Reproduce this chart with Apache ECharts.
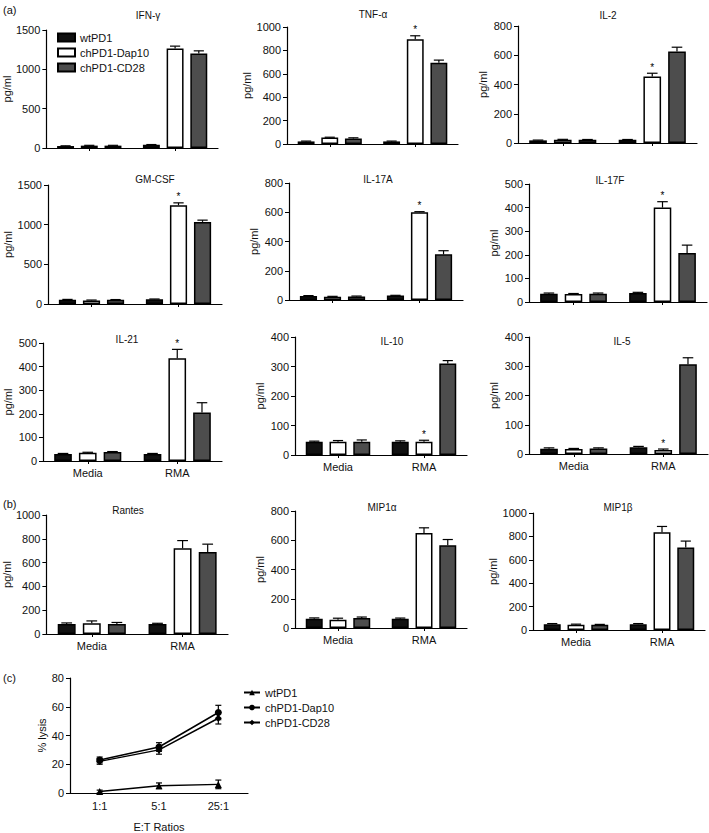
<!DOCTYPE html>
<html>
<head>
<meta charset="utf-8">
<script src="https://cdn.jsdelivr.net/npm/echarts@6/dist/echarts.min.js"></script>
<style>
html,body{margin:0;padding:0;background:#fff;}
#chart{width:709px;height:833px;}
</style>
</head>
<body>
<div id="chart"></div>
<script>
// ---------- DATA ----------
const groups = ['Media', 'RMA'];
const seriesNames = ['wtPD1', 'chPD1-Dap10', 'chPD1-CD28'];
const panelTitles = ['IFN-γ', 'TNF-α', 'IL-2', 'GM-CSF', 'IL-17A', 'IL-17F', 'IL-21', 'IL-10', 'IL-5', 'Rantes', 'MIP1α', 'MIP1β'];
const yMax = [1500, 1000, 800, 1500, 800, 500, 500, 400, 400, 1000, 800, 1000];
const yStep = [500, 200, 200, 500, 200, 100, 100, 100, 100, 200, 200, 200];
// star marks above RMA chPD1-Dap10 bar
const starFlags = [0, 1, 1, 1, 1, 1, 1, 1, 1, 0, 0, 0];

// values: [wtPD1, chPD1-Dap10, chPD1-CD28] x [Media, RMA]
const ifngVals = [[25, 40], [30, 1265], [30, 1200]];
const ifngErr  = [[3, 4], [4, 30], [4, 35]];
const tnfaVals = [[22, 22], [55, 895], [48, 695]];
const tnfaErr  = [[3, 3], [3, 30], [5, 22]];
const il2Vals  = [[18, 22], [22, 455], [22, 625]];
const il2Err   = [[2, 2], [3, 22], [2, 30]];
const gmcsfVals = [[55, 60], [45, 1245], [52, 1035]];
const gmcsfErr  = [[3, 3], [5, 30], [4, 22]];
const il17aVals = [[28, 30], [22, 600], [24, 312]];
const il17aErr  = [[2, 2], [3, 4], [3, 25]];
const il17fVals = [[35, 38], [34, 400], [35, 208]];
const il17fErr  = [[3, 3], [2, 25], [3, 33]];
const il21Vals = [[30, 30], [35, 435], [38, 205]];
const il21Err  = [[2, 2], [2, 38], [2, 42]];
const il10Vals = [[45, 45], [45, 45], [45, 310]];
const il10Err  = [[2, 3], [4, 5], [6, 10]];
const il5Vals  = [[18, 23], [17, 14], [19, 307]];
const il5Err   = [[3, 3], [2, 3], [2, 22]];
const rantesVals = [[85, 85], [90, 720], [85, 690]];
const rantesErr  = [[8, 5], [20, 65], [12, 65]];
const mip1aVals = [[63, 63], [57, 650], [68, 565]];
const mip1aErr  = [[6, 5], [10, 35], [7, 40]];
const mip1bVals = [[50, 50], [45, 835], [45, 705]];
const mip1bErr  = [[5, 5], [5, 50], [3, 55]];

const panelVals = [ifngVals, tnfaVals, il2Vals, gmcsfVals, il17aVals, il17fVals, il21Vals, il10Vals, il5Vals, rantesVals, mip1aVals, mip1bVals];
const panelErrs = [ifngErr, tnfaErr, il2Err, gmcsfErr, il17aErr, il17fErr, il21Err, il10Err, il5Err, rantesErr, mip1aErr, mip1bErr];

// panel (c) lysis
const ratios = ['1:1', '5:1', '25:1'];
const lysisWt = [1, 5, 6];
const lysisWtErr = [1, 2, 3];
const lysisDap10 = [23, 32, 56];
const lysisDap10Err = [2, 3, 5];
const lysisCd28 = [22, 30, 52];
const lysisCd28Err = [2, 3, 4];

// ---------- LAYOUT ----------
const FONT = 'Liberation Sans, Arial, Helvetica, sans-serif';
const gridBoxes = [
  [45, 30, 173, 118], [287, 27, 171, 117], [518, 26, 179, 117],
  [48, 185, 174, 119], [289, 183, 174, 117], [529, 184, 178, 118],
  [43, 343, 179, 118], [295, 337, 172, 118], [529, 337, 179, 117],
  [45, 515, 183, 119], [295, 511, 172, 117], [533, 513, 172, 117]
];
const titlePos = [
  [143, 5], [368, 4], [603, 5],
  [150, 169], [373, 169], [605, 170],
  [122, 329], [387, 331], [617, 331],
  [123, 500], [377, 497], [613, 497]
];
const lineBox = [70, 678, 178, 119];
const barFill = ['#111111', '#ffffff', '#4d4d4d'];

const CAT_GAP = 0.25, BAR_GAP = 0.4;
const plainNum = function (v) { return String(v); };

function errBarRender(params, api) {
  const cat = api.value(0), si = api.value(1), v = api.value(2), e = api.value(3), star = api.value(4);
  const base = api.coord([cat, v]);
  const top = api.coord([cat, v + e]);
  const band = api.size([1, 0])[0];
  const w = band * (1 - CAT_GAP) / (3 + 2 * BAR_GAP);
  const x = base[0] + (si - 1) * (1 + BAR_GAP) * w;
  const cap = w * 0.3;
  const st = { stroke: '#000', lineWidth: 1.2 };
  const children = [
    { type: 'line', shape: { x1: x, y1: base[1], x2: x, y2: top[1] }, style: st },
    { type: 'line', shape: { x1: x - cap, y1: top[1], x2: x + cap, y2: top[1] }, style: st }
  ];
  if (star) {
    children.push({ type: 'text', style: { text: '*', x: x, y: top[1] - 1, align: 'center', verticalAlign: 'bottom', fontSize: 10, fontFamily: FONT, fill: '#000', stroke: null } });
  }
  return { type: 'group', children: children };
}

function lineErrRender(params, api) {
  const cat = api.value(0), v = api.value(1), e = api.value(2);
  const lo = api.coord([cat, v - e]);
  const hi = api.coord([cat, v + e]);
  const x = lo[0], cap = 3;
  const st = { stroke: '#000', lineWidth: 1.2 };
  return { type: 'group', children: [
    { type: 'line', shape: { x1: x, y1: lo[1], x2: x, y2: hi[1] }, style: st },
    { type: 'line', shape: { x1: x - cap, y1: hi[1], x2: x + cap, y2: hi[1] }, style: st },
    { type: 'line', shape: { x1: x - cap, y1: lo[1], x2: x + cap, y2: lo[1] }, style: st }
  ]};
}

const grids = [], xAxes = [], yAxes = [], series = [], titles = [];
const axisLineStyle = { color: '#000', width: 1.2 };

panelTitles.forEach(function (t, p) {
  const b = gridBoxes[p];
  grids.push({ left: b[0], top: b[1], width: b[2], height: b[3], containLabel: false });
  titles.push({ text: t, left: titlePos[p][0], top: titlePos[p][1], textAlign: 'center',
    textStyle: { fontSize: 10, fontWeight: 'normal', fontFamily: FONT, color: '#111' } });
  xAxes.push({
    type: 'category', gridIndex: p, data: groups,
    axisLine: { lineStyle: axisLineStyle },
    axisTick: { show: true, alignWithLabel: true, length: 3, lineStyle: { color: '#000' } },
    axisLabel: { show: p >= 6, fontSize: 11, fontFamily: FONT, color: '#111', margin: 6 },
    splitLine: { show: false }
  });
  yAxes.push({
    type: 'value', gridIndex: p, min: 0, max: yMax[p], interval: yStep[p],
    name: 'pg/ml', nameLocation: 'middle', nameGap: 30, nameRotate: 90,
    nameTextStyle: { fontSize: 11, fontFamily: FONT, color: '#111' },
    axisLine: { show: true, lineStyle: axisLineStyle },
    axisTick: { show: true, length: 4, lineStyle: { color: '#000' } },
    axisLabel: { fontSize: 11, fontFamily: FONT, color: '#111', margin: 6, formatter: plainNum },
    splitLine: { show: false }
  });
  const vals = panelVals[p], errs = panelErrs[p];
  const errData = [];
  seriesNames.forEach(function (n, s) {
    series.push({
      type: 'bar', name: n, xAxisIndex: p, yAxisIndex: p,
      data: vals[s], barCategoryGap: '25%', barGap: '40%',
      itemStyle: { color: barFill[s], borderColor: '#000', borderWidth: 1.5 },
      emphasis: { disabled: true }, z: 2
    });
    groups.forEach(function (g, c) {
      errData.push([c, s, vals[s][c], errs[s][c], (starFlags[p] && s === 1 && c === 1) ? 1 : 0]);
    });
  });
  series.push({
    type: 'custom', xAxisIndex: p, yAxisIndex: p, renderItem: errBarRender,
    data: errData, z: 5, silent: true, itemStyle: { color: '#000' },
    encode: { x: 0, y: 2 }
  });
});

// panel (c)
const L = panelTitles.length;
grids.push({ left: lineBox[0], top: lineBox[1], width: lineBox[2], height: lineBox[3] });
xAxes.push({
  type: 'category', gridIndex: L, data: ratios,
  name: 'E:T Ratios', nameLocation: 'middle', nameGap: 28,
  nameTextStyle: { fontSize: 11, fontFamily: FONT, color: '#111' },
  axisLine: { lineStyle: axisLineStyle },
  axisTick: { show: false },
  axisLabel: { fontSize: 11, fontFamily: FONT, color: '#111', margin: 7 },
  splitLine: { show: false }
});
yAxes.push({
  type: 'value', gridIndex: L, min: 0, max: 80, interval: 20,
  name: '% lysis', nameLocation: 'middle', nameGap: 22, nameRotate: 90,
  nameTextStyle: { fontSize: 11, fontFamily: FONT, color: '#111' },
  axisLine: { show: true, lineStyle: axisLineStyle },
  axisTick: { show: true, length: 4, lineStyle: { color: '#000' } },
  axisLabel: { fontSize: 11, fontFamily: FONT, color: '#111', margin: 6, formatter: plainNum },
  splitLine: { show: false }
});
const lineSets = [
  ['c:wtPD1', lysisWt, lysisWtErr, 'triangle', 7],
  ['c:chPD1-Dap10', lysisDap10, lysisDap10Err, 'circle', 7],
  ['c:chPD1-CD28', lysisCd28, lysisCd28Err, 'diamond', 7]
];
lineSets.forEach(function (ls) {
  series.push({
    type: 'line', name: ls[0], xAxisIndex: L, yAxisIndex: L, data: ls[1],
    symbol: ls[3], symbolSize: ls[4], showAllSymbol: true,
    lineStyle: { color: '#000', width: 1.5 }, itemStyle: { color: '#000' },
    emphasis: { disabled: true }, z: 3
  });
  series.push({
    type: 'custom', xAxisIndex: L, yAxisIndex: L, renderItem: lineErrRender, silent: true,
    data: ratios.map(function (r, i) { return [i, ls[1][i], ls[2][i]]; }),
    itemStyle: { color: '#000' },
    encode: { x: 0, y: 1 }, z: 4
  });
});

const option = {
  animation: false,
  backgroundColor: '#fff',
  textStyle: { fontFamily: FONT },
  title: titles,
  grid: grids,
  xAxis: xAxes,
  yAxis: yAxes,
  legend: [
    { data: seriesNames, orient: 'vertical', left: 52, top: 27, itemWidth: 17, itemHeight: 8, itemGap: 4,
      icon: 'rect', selectedMode: false,
      textStyle: { fontSize: 11, fontFamily: FONT, color: '#111' } },
    { data: lineSets.map(function (l) { return l[0]; }), orient: 'vertical', left: 238, top: 682,
      itemWidth: 16, itemHeight: 7, itemGap: 4, selectedMode: false,
      formatter: function (n) { return n.replace('c:', ''); },
      textStyle: { fontSize: 11, fontFamily: FONT, color: '#111' } }
  ],
  graphic: [
    { type: 'text', left: 3, top: 4, style: { text: '(a)', fontSize: 11, fontFamily: FONT, fill: '#111' } },
    { type: 'text', left: 3, top: 498, style: { text: '(b)', fontSize: 11, fontFamily: FONT, fill: '#111' } },
    { type: 'text', left: 3, top: 672, style: { text: '(c)', fontSize: 11, fontFamily: FONT, fill: '#111' } }
  ],
  series: series
};

const chart = echarts.init(document.getElementById('chart'), null, { renderer: 'svg' });
chart.setOption(option);
</script>
</body>
</html>
